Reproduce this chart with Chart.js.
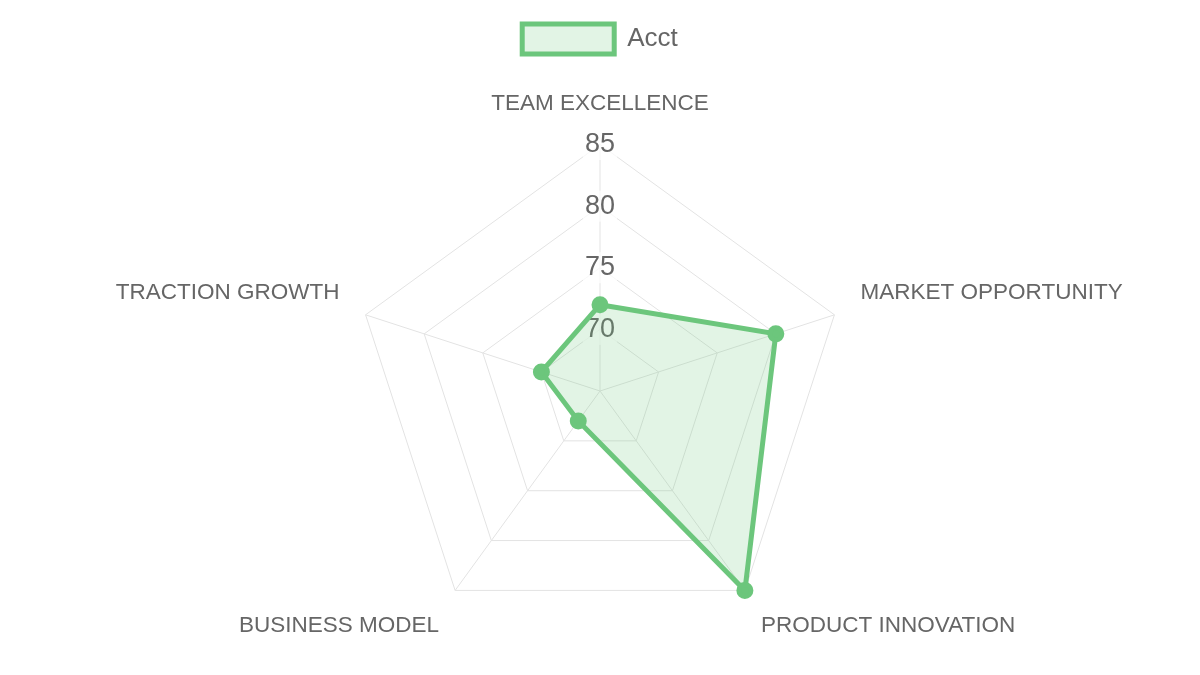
<!DOCTYPE html>
<html>
<head>
<meta charset="utf-8">
<script src="https://cdn.jsdelivr.net/npm/chart.js@4/dist/chart.umd.min.js"></script>
<style>
html,body{margin:0;padding:0;background:#fff;}
#wrap{width:1200px;height:675px;}
</style>
</head>
<body>
<div id="wrap"><canvas id="c" width="1200" height="675"></canvas></div>
<script>
const categories = ["TEAM EXCELLENCE", "MARKET OPPORTUNITY", "PRODUCT INNOVATION", "BUSINESS MODEL", "TRACTION GROWTH"];
const seriesName = "Acct";
const acctValues = [72, 80, 85, 68, 70];
const scaleMin = 65;
const scaleMax = 85;
const scaleStep = 5;

Chart.defaults.font.family = "'Liberation Sans', Arial, sans-serif";
Chart.defaults.color = "#666";

const legendGap = {
  id: 'legendGap',
  beforeInit(chart) {
    const legend = chart.legend;
    if (!legend) return;
    const origFit = legend.fit;
    legend.fit = function () {
      origFit.call(this);
      this.height += 7;
    };
  }
};

new Chart(document.getElementById('c'), {
  type: 'radar',
  data: {
    labels: categories,
    datasets: [{
      label: seriesName,
      data: acctValues,
      borderColor: 'rgb(108,198,124)',
      backgroundColor: 'rgba(108,198,124,0.2)',
      borderWidth: 5,
      pointBackgroundColor: 'rgb(108,198,124)',
      pointBorderColor: 'rgb(108,198,124)',
      pointRadius: 6,
      fill: true
    }]
  },
  plugins: [legendGap],
  options: {
    responsive: false,
    animation: false,
    layout: { padding: { top: 6, bottom: 2, left: 0, right: 0 } },
    plugins: {
      legend: {
        labels: { font: { size: 26 }, boxWidth: 92, boxHeight: 30, padding: 18 }
      },
      tooltip: { enabled: false }
    },
    scales: {
      r: {
        min: scaleMin,
        max: scaleMax,
        ticks: { stepSize: scaleStep, font: { size: 27 }, color: '#666' },
        pointLabels: { font: { size: 22.5 }, color: '#666', padding: 12 },
        grid: { color: '#e3e3e3' },
        angleLines: { color: '#e3e3e3' }
      }
    }
  }
});
</script>
</body>
</html>
